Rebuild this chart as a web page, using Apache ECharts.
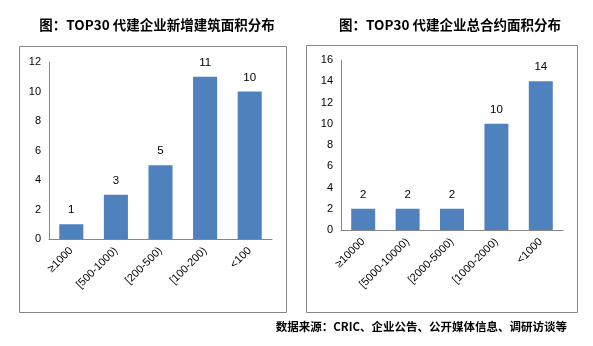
<!DOCTYPE html>
<html><head><meta charset="utf-8">
<script src="https://cdn.jsdelivr.net/npm/echarts@6/dist/echarts.min.js"></script>
<style>html,body{margin:0;padding:0;background:#fff}#c{width:593px;height:346px}</style>
</head><body><div id="c"></div>
<script>
const title1 = '图：TOP30 代建企业新增建筑面积分布';
const title2 = '图：TOP30 代建企业总合约面积分布';
const source = '数据来源：CRIC、企业公告、公开媒体信息、调研访谈等';
const categories1 = ['≥1000', '[500-1000)', '[200-500)', '[100-200)', '<100'];
const values1 = [1, 3, 5, 11, 10];
const categories2 = ['≥10000', '[5000-10000)', '[2000-5000)', '[1000-2000)', '<1000'];
const values2 = [2, 2, 2, 10, 14];

const chart = echarts.init(document.getElementById('c'), null, {renderer: 'canvas'});
const axisFont = {fontFamily: 'Liberation Sans', fontSize: 11, color: '#000'};
const lineStyle = {color: '#868686', width: 1};
function xAxis(idx, cats) {
  return {type: 'category', gridIndex: idx, data: cats,
    axisLine: {lineStyle}, axisTick: {show: false},
    axisLabel: Object.assign({rotate: 45, margin: 10, interval: 0}, axisFont)};
}
function yAxis(idx, max) {
  return {type: 'value', gridIndex: idx, min: 0, max: max, interval: 2,
    axisLine: {show: true, lineStyle}, axisTick: {show: false},
    splitLine: {show: false},
    axisLabel: Object.assign({margin: 8}, axisFont)};
}
function bar(idx, vals) {
  return {type: 'bar', xAxisIndex: idx, yAxisIndex: idx, data: vals,
    barWidth: '54%', itemStyle: {color: '#4F81BD'},
    label: {show: true, position: 'top', distance: 8, fontFamily: 'Liberation Sans', fontSize: 11.5, color: '#000'}};
}
chart.setOption({
  animation: false,
  title: [
    {text: title1, left: 152, top: 13, textAlign: 'center',
     textStyle: {fontFamily: 'Noto Sans CJK SC', fontWeight: 'bold', fontSize: 13.5, color: '#000'}},
    {text: title2, left: 445, top: 13, textAlign: 'center',
     textStyle: {fontFamily: 'Noto Sans CJK SC', fontWeight: 'bold', fontSize: 13.5, color: '#000'}},
    {text: source, right: 21, top: 316,
     textStyle: {fontFamily: 'Noto Sans CJK SC', fontWeight: 'bold', fontSize: 11.5, color: '#000'}}
  ],
  graphic: [
    {type: 'rect', shape: {x: 19.5, y: 46.5, width: 267, height: 266}, style: {fill: 'none', stroke: '#868686', lineWidth: 1}, silent: true},
    {type: 'rect', shape: {x: 306.5, y: 45.5, width: 271, height: 267}, style: {fill: 'none', stroke: '#868686', lineWidth: 1}, silent: true}
  ],
  grid: [
    {left: 49, top: 62, width: 223, height: 177},
    {left: 341, top: 60, width: 222, height: 170}
  ],
  xAxis: [xAxis(0, categories1), xAxis(1, categories2)],
  yAxis: [yAxis(0, 12), yAxis(1, 16)],
  series: [bar(0, values1), bar(1, values2)]
});
</script></body></html>
